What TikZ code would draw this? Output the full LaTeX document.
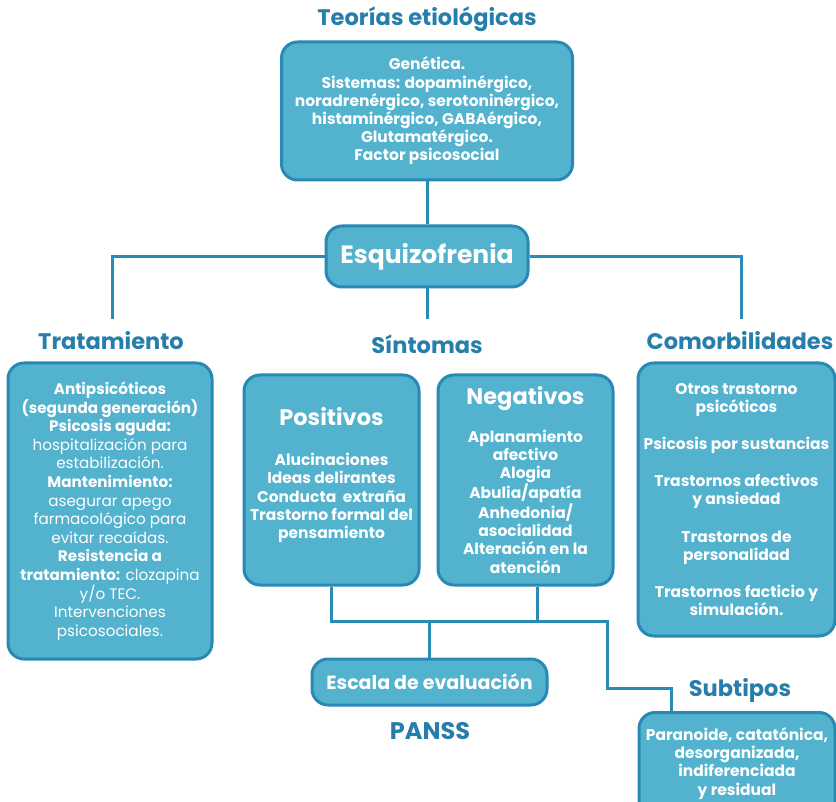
\documentclass[tikz,border=0pt]{standalone}
\usepackage{fontspec}
\setmainfont{Poppins}
\definecolor{fillc}{RGB}{83,178,205}
\definecolor{bordc}{RGB}{40,138,180}
\definecolor{titc}{RGB}{38,126,170}
\definecolor{linec}{RGB}{40,140,182}
\tikzset{
  box/.style={draw=bordc, fill=fillc, line width=3pt, rounded corners=16pt,
    text=white, align=center, inner sep=0pt,
    font=\bfseries\fontsize{15.5}{18.2}\selectfont},
  ttl/.style={text=titc, inner sep=0pt, font=\bfseries\fontsize{22.5}{26}\selectfont},
  conn/.style={draw=linec, line width=3pt}
}
\begin{document}
\begin{tikzpicture}[x=1pt,y=-1pt]
\clip (0,0) rectangle (836,802);
\fill[white] (0,0) rectangle (836,802);

% titles
\node[ttl] (teoT) at (427,19) {Teorías etiológicas};
\node[ttl] (traT) at (111,341) {Tratamiento};
\node[ttl] (sinT) at (427,344) {Síntomas};
\node[ttl] (comT) at (740,341) {Comorbilidades};
\node[ttl] (subT) at (740,690) {Subtipos};
\node[ttl, font=\bfseries\fontsize{24}{28}\selectfont] (pan) at (430,731) {PANSS};

% boxes
\node[box, minimum width=291pt, minimum height=138pt] (teo) at (427,111)
 {Genética.\\Sistemas: dopaminérgico,\\noradrenérgico, serotoninérgico,\\histaminérgico, GABAérgico,\\Glutamatérgico.\\Factor psicosocial};

\node[box, minimum width=202pt, minimum height=61pt,
  font=\bfseries\fontsize{25}{30}\selectfont] (esq) at (427,256.5) {Esquizofrenia};

\node[box, minimum width=204pt, minimum height=296pt,
  font=\fontsize{15.2}{18.6}\selectfont] (tra) at (110,511)
 {\textbf{Antipsicóticos}\\\textbf{(segunda generación)}\\\textbf{Psicosis aguda:}\\hospitalización para\\estabilización.\\\textbf{Mantenimiento:}\\asegurar apego\\farmacológico para\\evitar recaídas.\\\textbf{Resistencia a}\\\textbf{tratamiento:} clozapina\\y/o TEC.\\Intervenciones\\psicosociales.};

\node[box, minimum width=175pt, minimum height=210pt] (pos) at (331.5,480)
 {{\fontsize{22.5}{26}\selectfont Positivos}\\[22pt]Alucinaciones\\Ideas delirantes\\Conducta\ \ extraña\\Trastorno formal del\\pensamiento\\[-4pt]};

\node[box, minimum width=175pt, minimum height=210pt] (neg) at (525.5,480)
 {{\fontsize{22.5}{26}\selectfont Negativos}\\[18pt]Aplanamiento\\afectivo\\Alogia\\Abulia/apatía\\Anhedonia/\\asocialidad\\Alteración en la\\atención};

\node[box, minimum width=197pt, minimum height=273pt] (com) at (736.5,499.5)
 {Otros trastorno\\psicóticos\\[19pt]Psicosis por sustancias\\[19pt]Trastornos afectivos\\y ansiedad\\[19pt]Trastornos de\\personalidad\\[19pt]Trastornos facticio y\\simulación.};

\node[box, minimum width=235pt, minimum height=46pt,
  font=\bfseries\fontsize{19}{22}\selectfont] (esc) at (429.5,682) {Escala de evaluación};

\node[box, minimum width=196pt, minimum height=119pt, anchor=north] (sub) at (737,711)
 {Paranoide, catatónica,\\desorganizada,\\indiferenciada\\y residual\\[3pt]};

% connectors
\coordinate (hb) at (0,621);
\coordinate (sbend) at (671,688);
\coordinate (rbend) at (607,688);
\coordinate (traTop) at (112,319);
\coordinate (comTop) at (741,319);
\coordinate (sinTop) at (427,319);
\draw[conn] (teo.south) -- (esq.north);
\draw[conn] (esq.west) -| (traTop);
\draw[conn] (esq.east) -| (comTop);
\draw[conn] (esq.south) -- (sinTop);
\draw[conn] (pos.south) -- (pos.south |- hb) -- (rbend |- hb) -- (rbend) -- (sbend) -- (sbend |- sub.north);
\draw[conn] ([xshift=12pt]neg.south) -- ([xshift=12pt]neg.south |- hb);
\draw[conn] (esc.north |- hb) -- (esc.north);
\end{tikzpicture}
\end{document}
